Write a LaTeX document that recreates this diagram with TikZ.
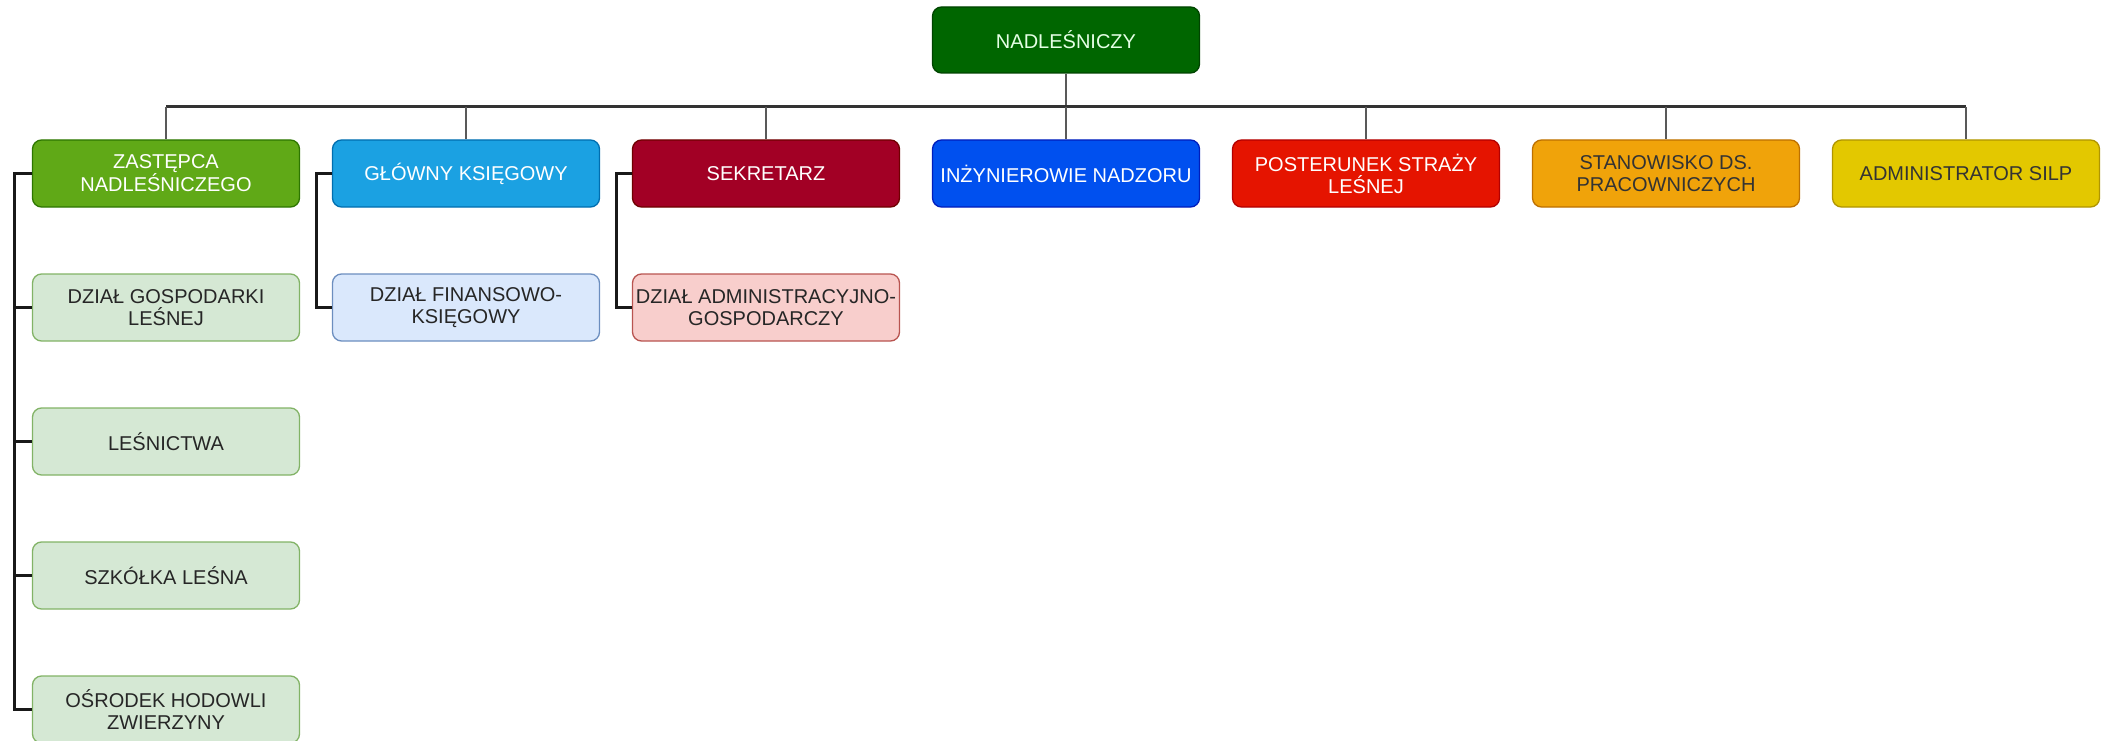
\documentclass[tikz,border=0pt]{standalone}
\usepackage{fontspec}
\setmainfont{Liberation Sans}
\begin{document}
\begin{tikzpicture}[x=1pt,y=-1pt,
  box/.style={rectangle, rounded corners=9pt, minimum width=267pt, minimum height=67pt,
    inner sep=0pt, align=center, line width=1.3pt, font=\fontsize{20}{22}\selectfont},
  topbox/.style={box, text=white},
  darkbox/.style={box, text=black!80},
  subbox/.style={box, text=black!85},
  busline/.style={line width=3pt, draw=black!80},
  vline/.style={line width=2pt, draw=black!65},
  tree/.style={line width=3pt, draw=black!90}
]
\definecolor{cN}{HTML}{006600}\definecolor{cNb}{HTML}{004400}
\definecolor{cZ}{HTML}{60A917}\definecolor{cZb}{HTML}{2D7600}
\definecolor{cG}{HTML}{1BA1E2}\definecolor{cGb}{HTML}{006EAF}
\definecolor{cS}{HTML}{A20025}\definecolor{cSb}{HTML}{6F0000}
\definecolor{cI}{HTML}{0050EF}\definecolor{cIb}{HTML}{001DBC}
\definecolor{cP}{HTML}{E51400}\definecolor{cPb}{HTML}{B20000}
\definecolor{cT}{HTML}{F0A30A}\definecolor{cTb}{HTML}{BD7000}
\definecolor{cA}{HTML}{E3C800}\definecolor{cAb}{HTML}{B09500}
\definecolor{sg}{HTML}{D5E8D4}\definecolor{sgb}{HTML}{82B366}
\definecolor{sb}{HTML}{DAE8FC}\definecolor{sbb}{HTML}{6C8EBF}
\definecolor{sr}{HTML}{F8CECC}\definecolor{srb}{HTML}{B85450}

\useasboundingbox (0,0) rectangle (2106,741);

\node[topbox, fill=cN, draw=cNb, minimum height=66pt, text=green!10!white] (n) at (1066,40) {NADLEŚNICZY};

\node[topbox, fill=cZ, draw=cZb] (z) at (166,173.5) {ZASTĘPCA\\NADLEŚNICZEGO};
\node[topbox, fill=cG, draw=cGb] (g) at (466,173.5) {GŁÓWNY KSIĘGOWY};
\node[topbox, fill=cS, draw=cSb] (s) at (766,173.5) {SEKRETARZ};
\node[topbox, fill=cI, draw=cIb] (i) at (1066,173.5) {INŻYNIEROWIE NADZORU};
\node[topbox, fill=cP, draw=cPb] (p) at (1366,173.5) {POSTERUNEK STRAŻY\\LEŚNEJ};
\node[darkbox, fill=cT, draw=cTb] (t) at (1666,173.5) {STANOWISKO DS.\\PRACOWNICZYCH};
\node[darkbox, fill=cA, draw=cAb] (a) at (1966,173.5) {ADMINISTRATOR SILP};

\node[subbox, fill=sg, draw=sgb] (d1) at (166,307.5) {DZIAŁ GOSPODARKI\\LEŚNEJ};
\node[subbox, fill=sg, draw=sgb] (d2) at (166,441.5) {LEŚNICTWA};
\node[subbox, fill=sg, draw=sgb] (d3) at (166,575.5) {SZKÓŁKA LEŚNA};
\node[subbox, fill=sg, draw=sgb] (d4) at (166,709.5) {OŚRODEK HODOWLI\\ZWIERZYNY};
\node[subbox, fill=sb, draw=sbb] (gd) at (466,307.5) {DZIAŁ FINANSOWO-\\KSIĘGOWY};
\node[subbox, fill=sr, draw=srb] (sd) at (766,307.5) {DZIAŁ ADMINISTRACYJNO-\\GOSPODARCZY};

\coordinate (bus) at (1066,107);

% bus and drops
\draw[vline] (n.south) -- (n.south |- bus);
\draw[busline] (z.north |- bus) -- (a.north |- bus);
\foreach \k in {z,g,s,i,p,t,a}{
  \draw[vline] (\k.north |- bus) -- (\k.north);
}

% left trees
\coordinate (zx) at (14,173.5);
\draw[tree] (z.west) -- (zx) |- (d4.west);
\foreach \k in {d1,d2,d3}{
  \draw[tree] (\k.west -| zx) -- (\k.west);
}
\coordinate (gx) at (316,173.5);
\draw[tree] (g.west) -- (gx) |- (gd.west);
\coordinate (sx) at (616,173.5);
\draw[tree] (s.west) -- (sx) |- (sd.west);
\end{tikzpicture}
\end{document}
